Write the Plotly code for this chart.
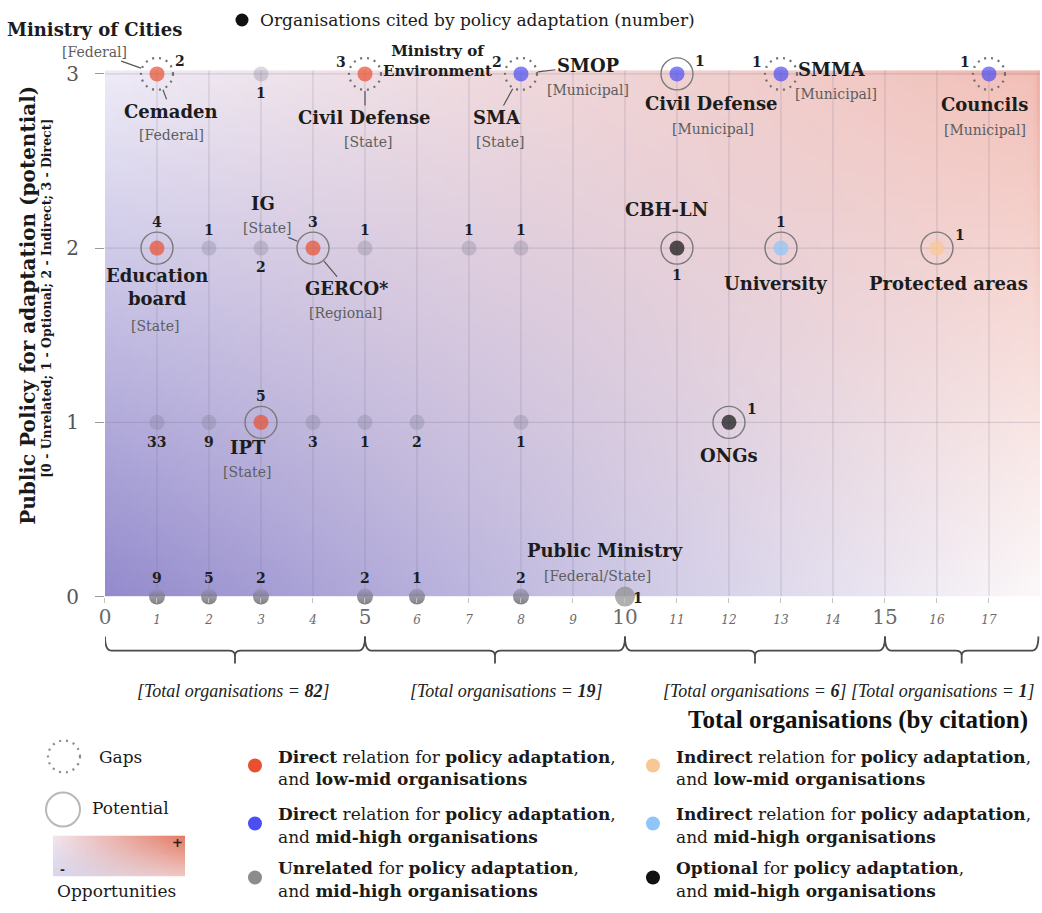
import numpy as np
import plotly.graph_objects as go

FIG_W, FIG_H = 1042, 913
SERIF = "DejaVu Serif"
NARROW = "Liberation Serif"

# ---------------- data ----------------
pt_x = [1, 3, 5, 8, 11, 13, 17,
        1, 2, 3, 4, 5, 7, 8, 11, 13, 16,
        1, 2, 3, 4, 5, 6, 8, 12,
        1, 2, 3, 5, 6, 8, 10]
pt_y = [3, 3, 3, 3, 3, 3, 3,
        2, 2, 2, 2, 2, 2, 2, 2, 2, 2,
        1, 1, 1, 1, 1, 1, 1, 1,
        0, 0, 0, 0, 0, 0, 0]
pt_cat = ["direct_low", "unrelated", "direct_low", "direct_high", "direct_high", "direct_high", "direct_high",
          "direct_low", "unrelated", "unrelated", "direct_low", "unrelated", "unrelated", "unrelated",
          "optional", "indirect_high", "indirect_low",
          "unrelated", "unrelated", "direct_low", "unrelated", "unrelated", "unrelated", "unrelated", "optional",
          "unrelated", "unrelated", "unrelated", "unrelated", "unrelated", "unrelated", "unrelated"]
pt_ring = ["gap", "", "gap", "gap", "potential", "gap", "gap",
           "potential", "", "", "potential", "", "", "", "potential", "potential", "potential",
           "", "", "potential", "", "", "", "", "potential",
           "", "", "", "", "", "", ""]
pt_count = [2, 1, 3, 2, 1, 1, 1,
            4, 1, 2, 3, 1, 1, 1, 1, 1, 1,
            33, 9, 5, 3, 1, 2, 1, 1,
            9, 5, 2, 2, 1, 2, 1]

org_name = ["Ministry of Cities", "Cemaden", "Ministry of<br>Environment", "Civil Defense", "SMA", "SMOP",
            "Civil Defense", "SMMA", "Councils", "IG", "Education<br>board", "GERCO*", "CBH-LN",
            "University", "Protected areas", "IPT", "ONGs", "Public Ministry"]
org_level = ["[Federal]", "[Federal]", "", "[State]", "[State]", "[Municipal]", "[Municipal]", "[Municipal]",
             "[Municipal]", "[State]", "[State]", "[Regional]", "", "", "", "[State]", "", "[Federal/State]"]
org_x = [1, 1, 5, 5, 8, 8, 11, 13, 17, 3, 1, 4, 11, 13, 16, 3, 12, 10]
org_y = [3, 3, 3, 3, 3, 3, 3, 3, 3, 2, 2, 2, 2, 2, 2, 1, 1, 0]

group_start = [0, 5, 10, 15]
group_end = [5, 10, 15, 17.95]
group_total = [82, 19, 6, 1]

x_ticks = list(range(0, 18))
y_ticks = [0, 1, 2, 3]

legend_cats = ["direct_low", "direct_high", "unrelated", "indirect_low", "indirect_high", "optional"]
legend_line1 = ["<b>Direct</b> relation for <b>policy adaptation</b>,",
                "<b>Direct</b> relation for <b>policy adaptation</b>,",
                "<b>Unrelated</b> for <b>policy adaptation</b>,",
                "<b>Indirect</b> relation for <b>policy adaptation</b>,",
                "<b>Indirect</b> relation for <b>policy adaptation</b>,",
                "<b>Optional</b> for <b>policy adaptation</b>,"]
legend_line2 = ["and <b>low-mid organisations</b>", "and <b>mid-high organisations</b>",
                "and <b>mid-high organisations</b>", "and <b>low-mid organisations</b>",
                "and <b>mid-high organisations</b>", "and <b>mid-high organisations</b>"]

# ---------------- styles / layout helpers ----------------
cat_color = {
    "direct_low": "#e8502f",
    "direct_high": "#4b4ff2",
    "unrelated": "rgba(120,118,140,0.40)",
    "indirect_low": "#f9c793",
    "indirect_high": "#8fc6f7",
    "optional": "#111111",
}
legend_color = dict(cat_color, unrelated="#8c8c8c")

count_pos = ["ur", "b", "ul", "ul", "ur", "ul", "ul",
             "t", "t", "b", "t", "t", "t", "t", "b", "t", "ur",
             "b", "b", "t", "b", "b", "b", "b", "ur",
             "t", "t", "t", "t", "t", "t", "r"]

org_layout = [
    dict(n=(-62, -44), l=(-62, -22), leader="level"),
    dict(n=(14, 37), l=(14, 60), leader="name"),
    dict(n=(72, -13), l=None, leader="name"),
    dict(n=(0, 43), l=(3, 67), leader="name"),
    dict(n=(-24, 43), l=(-21, 67), leader="name"),
    dict(n=(67, -8), l=(67, 16), leader="name"),
    dict(n=(34, 29), l=(36, 54), leader=None),
    dict(n=(51, -4), l=(55, 20), leader=None),
    dict(n=(-4, 30), l=(-4, 55), leader=None),
    dict(n=(2, -44), l=(-46, -20), leader="level", level_anchor=(4, 2)),
    dict(n=(0, 38), l=(-2, 77), leader=None),
    dict(n=(34, 40), l=(32, 64), leader="name"),
    dict(n=(-10, -38), l=None, leader=None),
    dict(n=(-5, 35), l=None, leader=None),
    dict(n=(11, 35), l=None, leader=None),
    dict(n=(-13, 25), l=(-14, 49), leader=None),
    dict(n=(0, 33), l=None, leader=None),
    dict(n=(-20, -46), l=(-27, -20), leader=None),
]
org_name_size = [18, 18, 15, 18, 18, 18, 18, 18, 18, 18, 18, 18, 18, 18, 18, 18, 18, 18]

X_RANGE = [0, 17.98]
Y_RANGE = [0, 3.12]
GRAD_TOP = 3.02

# target-picture pixel -> figure pixel (compensates the slight rescale seen in the rendered picture)
KX, OX = 0.9943, 6.0
KY = 0.9875


def MX(q):
    return (q - OX) / KX


def MY(q):
    return q / KY


def SXp(v):
    return v / KX


def SYp(v):
    return v / KY


def pxx(q):
    return MX(q) / FIG_W


def pxy(q):
    return 1 - MY(q) / FIG_H


fig = go.Figure()

# background gradient (plot area)
nx, ny = 300, 100
gs = (np.arange(nx) + 0.5) / nx
gt = (np.arange(ny) + 0.5) / ny
S, T = np.meshgrid(gs, gt)
BL = np.array([146, 138, 204.0])
TL = np.array([238, 235, 247.0])
TR = np.array([242, 192, 184.0])
BR = np.array([252, 248, 249.0])
rgb = (((1 - S) * (1 - T))[..., None] * BL + ((1 - S) * T)[..., None] * TL
       + (S * T)[..., None] * TR + (S * (1 - T))[..., None] * BR)
rim = np.maximum(np.exp(-(1 - S) * 935 / 3.5) * T ** 2.5,
                 np.exp(-(1 - T) * 526 / 3.0) * S ** 8) * 0.45
RIM = np.array([230, 128, 108.0])
rgb = rgb * (1 - rim[..., None]) + RIM * rim[..., None]
fig.add_trace(go.Image(z=np.round(rgb).astype(int).tolist(), colormodel="rgb",
                       x0=X_RANGE[1] / nx / 2, dx=X_RANGE[1] / nx,
                       y0=GRAD_TOP / ny / 2, dy=GRAD_TOP / ny,
                       zsmooth="fast", hoverinfo="skip", xaxis="x", yaxis="y"))

# legend gradient box
lx, ly = 40, 14
ls = (np.arange(lx) + 0.5) / lx
lt = (np.arange(ly) + 0.5) / ly
S2, T2 = np.meshgrid(ls, lt)
c_bl = np.array([214, 214, 238.0])
c_tl = np.array([242, 230, 238.0])
c_tr = np.array([228, 120, 96.0])
c_br = np.array([240, 200, 196.0])
rgb2 = (((1 - S2) * (1 - T2))[..., None] * c_bl + ((1 - S2) * T2)[..., None] * c_tl
        + (S2 * T2)[..., None] * c_tr + (S2 * (1 - T2))[..., None] * c_br)
fig.add_trace(go.Image(z=np.round(rgb2).astype(int).tolist(), colormodel="rgb",
                       x0=0.5 / lx, dx=1 / lx, y0=0.5 / ly, dy=1 / ly,
                       zsmooth="fast", hoverinfo="skip", xaxis="x2", yaxis="y2"))

# grid lines
gxs, gys = [], []
for v in range(1, 18):
    gxs += [v, v, None]
    gys += [0, GRAD_TOP, None]
for h in range(1, 4):
    gxs += [0, X_RANGE[1], None]
    gys += [h, h, None]
fig.add_trace(go.Scatter(x=gxs, y=gys, mode="lines", line=dict(color="rgba(110,110,130,0.26)", width=1),
                         hoverinfo="skip", showlegend=False))

# points
colors, sizes, gtypes, gcols = [], [], [], []
for x, y, c in zip(pt_x, pt_y, pt_cat):
    if y == 0 and x == 10:
        colors.append("#8e8e8e"); sizes.append(20); gtypes.append("none"); gcols.append("#8e8e8e")
    elif y == 0:
        colors.append("#9a96b8"); sizes.append(16); gtypes.append("vertical"); gcols.append("#4a4a4a")
    else:
        colors.append(cat_color[c]); sizes.append(15); gtypes.append("none"); gcols.append(cat_color[c])
fig.add_trace(go.Scatter(x=pt_x, y=pt_y, mode="markers", cliponaxis=False,
                         marker=dict(color=colors, size=sizes, line=dict(width=0),
                                     gradient=dict(type=gtypes, color=gcols)),
                         hoverinfo="skip", showlegend=False))

shapes = []
annotations = []

# rings
for x, y, r in zip(pt_x, pt_y, pt_ring):
    if not r:
        continue
    if r == "gap":
        line = dict(color="#6f6f6f", width=2.2, dash="2px,5px")
    else:
        line = dict(color="#7a7a7a", width=1.4)
    shapes.append(dict(type="circle", xref="x", yref="y", xsizemode="pixel", ysizemode="pixel",
                       xanchor=x, yanchor=y, x0=-16, x1=16, y0=-16, y1=16,
                       line=line, fillcolor="rgba(0,0,0,0)", layer="above"))

# count labels
for x, y, n, p, r in zip(pt_x, pt_y, pt_count, count_pos, pt_ring):
    e = 8 if r else 0
    dx, dy = {"t": (0, -(18 + e)), "b": (0, 19 + e), "ur": (23, -13),
              "ul": (-24, -12), "r": (13, 1)}[p]
    annotations.append(dict(x=x, y=y, xref="x", yref="y", text=f"<b>{n}</b>", showarrow=False,
                            xshift=SXp(dx), yshift=-SYp(dy), xanchor="center", yanchor="middle",
                            font=dict(family=SERIF, size=14, color="#1e1e1e")))


def label(x, y, text, dx, dy, size, color, leader):
    return dict(x=x, y=y, xref="x", yref="y", text=text, showarrow=True, ax=SXp(dx), ay=SYp(dy),
                axref="pixel", ayref="pixel", arrowhead=0, arrowwidth=1.2,
                arrowcolor="#555555" if leader else "rgba(0,0,0,0)",
                standoff=17 if leader else 0, startstandoff=0,
                xanchor="center", yanchor="middle",
                font=dict(family=SERIF, size=size, color=color))


for i, name in enumerate(org_name):
    lay = org_layout[i]
    x, y = org_x[i], org_y[i]
    annotations.append(label(x, y, f"<b>{name}</b>", lay["n"][0], lay["n"][1], org_name_size[i],
                             "#1c1c1c", lay["leader"] == "name"))
    if org_level[i] and lay["l"] is not None:
        ax_, ay_ = lay.get("level_anchor", (x, y))
        annotations.append(label(ax_, ay_, org_level[i], lay["l"][0], lay["l"][1], 14,
                                 "#5e5e5e", lay["leader"] == "level"))

# group braces
ya, yb, yc, yd = pxy(637), pxy(651), pxy(656), pxy(664)
r = 0.12
for x0, x1, tot in zip(group_start, group_end, group_total):
    xc = (x0 + x1) / 2
    path = (f"M {x0},{ya} Q {x0},{yb} {x0 + r},{yb} L {xc - r},{yb} Q {xc},{yb} {xc},{yc} L {xc},{yd} "
            f"M {xc},{yc} Q {xc},{yb} {xc + r},{yb} L {x1 - r},{yb} Q {x1},{yb} {x1},{ya}")
    shapes.append(dict(type="path", xref="x", yref="paper", path=path,
                       line=dict(color="#4a4a4a", width=1.8)))
label_centers = [2.47, 7.72, 12.5, 16.1]
for xc, tot in zip(label_centers, group_total):
    annotations.append(dict(x=xc, y=pxy(691), xref="x", yref="paper", showarrow=False,
                            text=f"<i>[Total organisations = <b>{tot}</b>]</i>",
                            xanchor="center", yanchor="middle",
                            font=dict(family=NARROW, size=18, color="#222")))

annotations.append(dict(x=pxx(1030), y=pxy(720), xref="paper", yref="paper", showarrow=False,
                        text="<b>Total organisations (by citation)</b>", xanchor="right", yanchor="middle",
                        font=dict(family=NARROW, size=25, color="#111")))

# y-axis titles
annotations.append(dict(x=pxx(28), y=pxy(305), xref="paper", yref="paper", showarrow=False,
                        text="<b>Public Policy for adaptation (potential)</b>", textangle=-90,
                        xanchor="center", yanchor="middle",
                        font=dict(family=SERIF, size=20, color="#1a1a1a")))
annotations.append(dict(x=pxx(47), y=pxy(298), xref="paper", yref="paper", showarrow=False,
                        text="<b>[0 - Unrelated; 1 - Optional; 2 - Indirect; 3 - Direct]</b>", textangle=-90,
                        xanchor="center", yanchor="middle",
                        font=dict(family=SERIF, size=12.5, color="#1a1a1a")))

# top legend
shapes.append(dict(type="circle", xref="paper", yref="paper", xsizemode="pixel", ysizemode="pixel",
                   xanchor=pxx(242), yanchor=pxy(20), x0=-6.5, x1=6.5, y0=-6.5, y1=6.5,
                   fillcolor="#111", line=dict(width=0)))
annotations.append(dict(x=pxx(258), y=pxy(20), xref="paper", yref="paper", showarrow=False,
                        text="Organisations cited by policy adaptation (number)", xanchor="left",
                        yanchor="middle", font=dict(family=SERIF, size=17, color="#1a1a1a")))

# bottom legend (kept just inside the drawable height)
leg_px = [255, 255, 255, 653, 653, 653]
leg_ty = [757, 815, 869, 757, 815, 869]
for cat, px, ty, t1, t2 in zip(legend_cats, leg_px, leg_ty, legend_line1, legend_line2):
    shapes.append(dict(type="circle", xref="paper", yref="paper", xsizemode="pixel", ysizemode="pixel",
                       xanchor=pxx(px), yanchor=pxy(ty + 9), x0=-7, x1=7, y0=-7, y1=7,
                       fillcolor=legend_color[cat], line=dict(width=0)))
    for k, t in enumerate((t1, t2)):
        annotations.append(dict(x=pxx(px + 21), y=pxy(ty + 23 * k), xref="paper", yref="paper",
                                showarrow=False, text=t, xanchor="left", yanchor="middle",
                                font=dict(family=SERIF, size=17, color="#1a1a1a")))

# left legend: gaps / potential / opportunities
shapes.append(dict(type="circle", xref="paper", yref="paper", xsizemode="pixel", ysizemode="pixel",
                   xanchor=pxx(64), yanchor=pxy(757), x0=-16, x1=16, y0=-16, y1=16,
                   line=dict(color="#8a8a8a", width=2.2, dash="2px,5px")))
shapes.append(dict(type="circle", xref="paper", yref="paper", xsizemode="pixel", ysizemode="pixel",
                   xanchor=pxx(63), yanchor=pxy(810), x0=-17, x1=17, y0=-17, y1=17,
                   line=dict(color="#b8b8b8", width=2)))
annotations.append(dict(x=pxx(97), y=pxy(757), xref="paper", yref="paper", showarrow=False,
                        text="Gaps", xanchor="left", yanchor="middle",
                        font=dict(family=SERIF, size=17, color="#1a1a1a")))
annotations.append(dict(x=pxx(90), y=pxy(809), xref="paper", yref="paper", showarrow=False,
                        text="Potential", xanchor="left", yanchor="middle",
                        font=dict(family=SERIF, size=17, color="#1a1a1a")))
annotations.append(dict(x=pxx(117), y=pxy(892), xref="paper", yref="paper", showarrow=False,
                        text="Opportunities", xanchor="center", yanchor="middle",
                        font=dict(family=SERIF, size=17, color="#1a1a1a")))
annotations.append(dict(x=pxx(178), y=pxy(843), xref="paper", yref="paper", showarrow=False,
                        text="<b>+</b>", xanchor="center", yanchor="middle",
                        font=dict(family=SERIF, size=13, color="#222")))
annotations.append(dict(x=pxx(63), y=pxy(871), xref="paper", yref="paper", showarrow=False,
                        text="<b>-</b>", xanchor="center", yanchor="middle",
                        font=dict(family=SERIF, size=12, color="#222")))

x_ticktext = [f'<span style="font-size:20px">{v}</span>' if v % 5 == 0 else f"<i>{v}</i>" for v in x_ticks]

fig.update_layout(
    width=FIG_W, height=FIG_H,
    margin=dict(l=0, r=0, t=0, b=0),
    paper_bgcolor="white", plot_bgcolor="white",
    showlegend=False,
    xaxis=dict(domain=[pxx(105), pxx(1040)], range=X_RANGE, showgrid=False, zeroline=False, showline=False,
               tickvals=x_ticks, ticktext=x_ticktext, ticks="outside", ticklen=5, tickcolor="#c4c4c4",
               tickfont=dict(family=SERIF, size=12, color="#6a6a6a"), ticklabelstandoff=7,
               fixedrange=True, anchor="y"),
    yaxis=dict(domain=[pxy(597), pxy(53)], range=Y_RANGE, showgrid=False, zeroline=False, showline=False,
               tickvals=y_ticks, ticktext=[str(v) for v in y_ticks], ticks="outside", ticklen=9,
               tickcolor="#9a9a9a", tickfont=dict(family=SERIF, size=20, color="#555"),
               ticklabelstandoff=12, scaleanchor=False, fixedrange=True, anchor="x"),
    xaxis2=dict(domain=[pxx(53), pxx(185)], range=[0, 1], visible=False, anchor="y2", fixedrange=True),
    yaxis2=dict(domain=[pxy(877), pxy(836)], range=[0, 1], visible=False, anchor="x2",
                scaleanchor=False, fixedrange=True),
    shapes=shapes,
    annotations=annotations,
)

fig.write_html(
    "out.html",
    config={"displayModeBar": False, "staticPlot": True},
    post_script=("document.documentElement.style.margin='0px';document.body.style.margin='0px';"
                 "document.body.style.padding='0px';document.documentElement.style.overflow='hidden';"
                 "document.body.style.overflow='hidden';"),
)
